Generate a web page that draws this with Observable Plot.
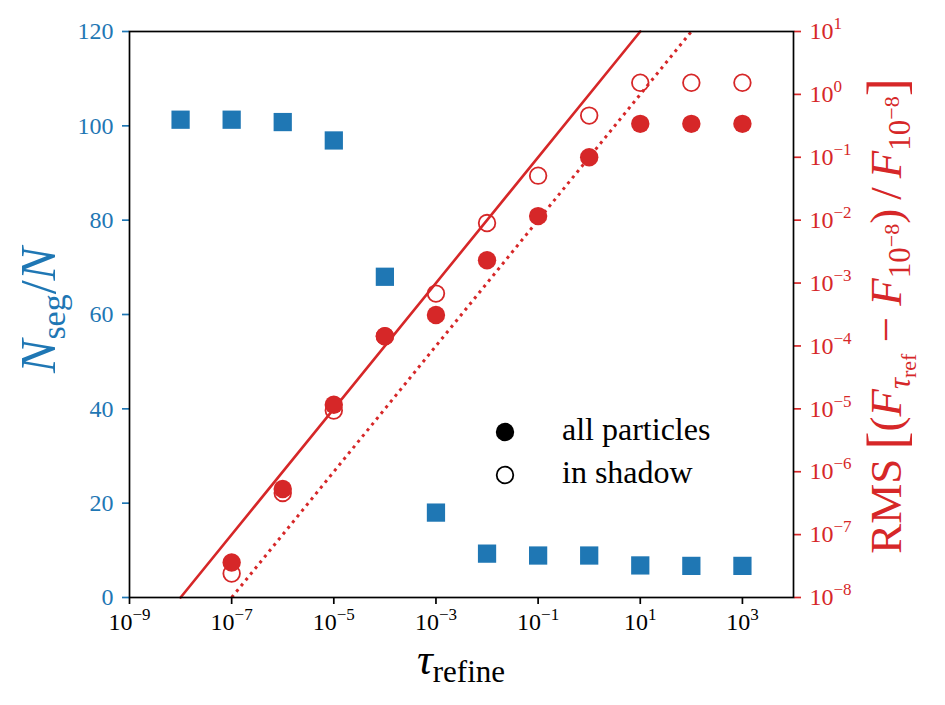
<!DOCTYPE html>
<html><head><meta charset="utf-8">
<script src="https://cdn.jsdelivr.net/npm/d3@7"></script>
<script src="https://cdn.jsdelivr.net/npm/@observablehq/plot@0.6"></script>
<style>
body{margin:0;background:#fff;}
#chart{position:relative;width:945px;height:705px;}
#chart svg{position:absolute;left:0;top:0;overflow:visible;}
</style></head><body><div id="chart"></div>
<script>
// ---- data ----
const tauSeg = [1e-8, 1e-7, 1e-6, 1e-5, 1e-4, 1e-3, 1e-2, 1e-1, 1e0, 1e1, 1e2, 1e3];
const nSeg   = [101.3, 101.3, 100.8, 96.9, 68.0, 18.0, 9.3, 8.9, 8.9, 6.8, 6.7, 6.7];
const tauRms    = [1e-7, 1e-6, 1e-5, 1e-4, 1e-3, 1e-2, 1e-1, 1e0, 1e1, 1e2, 1e3];
const rmsAll    = [3.6e-8, 5.3e-7, 1.16e-5, 1.43e-4, 3.1e-4, 2.3e-3, 1.16e-2, 0.100, 0.34, 0.34, 0.34];
const rmsShadow = [2.4e-8, 4.6e-7, 9.4e-6, 1.43e-4, 6.8e-4, 9.0e-3, 5.1e-2, 0.46, 1.53, 1.53, 1.53];
const fitTau   = [1e-8, 1e1];
const fitRms   = [1e-8, 1e1];
const fit10Tau = [1e-7, 1e2];
const fit10Rms = [1e-8, 1e1];
const xTicks      = [1e-9, 1e-7, 1e-5, 1e-3, 1e-1, 1e1, 1e3];
const yLeftTicks  = [0, 20, 40, 60, 80, 100, 120];
const yRightTicks = [1e-8, 1e-7, 1e-6, 1e-5, 1e-4, 1e-3, 1e-2, 1e-1, 1e0, 1e1];
const legendLabels = ["all particles", "in shadow"];

const BLUE = "#1f77b4", RED = "#d62728";
const FONT = '"Liberation Serif", "DejaVu Serif", serif';
const W = 945, H = 705;
const M = {marginTop: 31, marginRight: 152, marginBottom: 108, marginLeft: 129};
const fmtPow = d => "10^" + Math.round(Math.log10(d));

const segData = tauSeg.map((t, i) => ({t, v: nSeg[i]}));
const allData = tauRms.map((t, i) => ({t, v: rmsAll[i]}));
const shdData = tauRms.map((t, i) => ({t, v: rmsShadow[i]}));
const fit1 = fitTau.map((t, i) => ({t, v: fitRms[i]}));
const fit2 = fit10Tau.map((t, i) => ({t, v: fit10Rms[i]}));

const p1 = Plot.plot({
  width: W, height: H, ...M,
  style: {fontFamily: FONT, fontSize: "24px", background: "white", overflow: "visible"},
  x: {type: "log", domain: [1e-9, 1e4]},
  y: {domain: [0, 120]},
  marks: [
    Plot.dot(segData, {x: "t", y: "v", symbol: "square", r: 10.3, fill: BLUE}),
    Plot.axisX({ticks: xTicks, tickFormat: fmtPow, tickSize: 7, tickPadding: 8, strokeWidth: 1.7, label: null, color: "black"}),
    Plot.axisY({ticks: yLeftTicks, tickFormat: d => String(d), tickSize: 7, tickPadding: 9, strokeWidth: 1.7, label: null, color: BLUE})
  ]
});

const p2 = Plot.plot({
  width: W, height: H, ...M,
  style: {fontFamily: FONT, fontSize: "24px", background: "transparent", overflow: "visible"},
  x: {type: "log", domain: [1e-9, 1e4], axis: null},
  y: {type: "log", domain: [1e-8, 1e1]},
  marks: [
    Plot.line(fit1, {x: "t", y: "v", stroke: RED, strokeWidth: 2.6}),
    Plot.line(fit2, {x: "t", y: "v", stroke: RED, strokeWidth: 3, strokeDasharray: "3 4.4", strokeLinecap: "butt"}),
    Plot.dot(shdData, {x: "t", y: "v", r: 8.3, stroke: RED, strokeWidth: 1.8, fill: "none"}),
    Plot.dot(allData, {x: "t", y: "v", r: 9.2, fill: RED}),
    Plot.axisY({anchor: "right", ticks: yRightTicks, tickFormat: fmtPow, tickSize: 7, tickPadding: 9, strokeWidth: 1.7, label: null, color: RED}),
    Plot.frame({stroke: "black", strokeWidth: 1.7})
  ]
});

const chart = document.getElementById("chart");
chart.appendChild(p1);
chart.appendChild(p2);

// superscript formatting for power-of-ten tick labels
function supify(svg) {
  svg.querySelectorAll("text").forEach(t => {
    const m = t.textContent.match(/^10\^(-?\d+)$/);
    if (!m) return;
    t.textContent = "";
    const ns = "http://www.w3.org/2000/svg";
    const a = document.createElementNS(ns, "tspan");
    a.textContent = "10";
    const b = document.createElementNS(ns, "tspan");
    b.textContent = m[1].replace("-", "\u2212");
    b.setAttribute("dy", "-10");
    b.setAttribute("font-size", "17px");
    t.appendChild(a); t.appendChild(b);
  });
}
supify(p1); supify(p2);

// rich-text labels
function rich(sel, segs) {
  segs.forEach(s => {
    const ts = sel.append("tspan").text(s.t);
    if (s.size) ts.style("font-size", s.size + "px");
    if (s.dy) ts.attr("dy", s.dy);
    if (s.it) ts.style("font-style", "italic");
  });
}
function label(parent, size, color) {
  return parent.append("text")
    .style("font-family", FONT).style("font-size", size + "px")
    .style("font-style", "normal").attr("text-anchor", "middle").attr("fill", color);
}
const svg = d3.select(p2);
const g = svg.append("g");

// x label
rich(label(g, 44, "black").attr("x", 461).attr("y", 674),
  [{t: "τ", it: true}, {t: "refine", size: 31, dy: 8}]);

// left label
rich(label(g, 50, BLUE).attr("transform", "translate(55,310) rotate(-90)"),
  [{t: "N", it: true}, {t: "seg", size: 34, dy: 10}, {t: "/", size: 50, dy: -10}, {t: "N", it: true}]);

// right label
rich(label(g, 45, RED).attr("transform", "translate(901,316) rotate(-90)"),
  [{t: "RMS\u2009"}, {t: "[", size: 54, dy: 4}, {t: "(", size: 45, dy: -4}, {t: "F", it: true},
   {t: "τ", it: true, size: 31, dy: 9}, {t: "ref", size: 22, dy: 6},
   {t: " \u2212 ", size: 45, dy: -15}, {t: "F", it: true},
   {t: "10", size: 31, dy: 9}, {t: "\u22128", size: 22, dy: -11},
   {t: ")\u2009/\u2009", size: 45, dy: 2}, {t: "F", it: true},
   {t: "10", size: 31, dy: 9}, {t: "\u22128", size: 22, dy: -11},
   {t: "]", size: 54, dy: 6}]);

// legend
const lg = svg.append("g");
lg.append("circle").attr("cx", 505).attr("cy", 432).attr("r", 9.2).attr("fill", "black");
lg.append("circle").attr("cx", 505).attr("cy", 475).attr("r", 8.3).attr("fill", "none").attr("stroke", "black").attr("stroke-width", 1.8);
label(lg, 32, "black").attr("text-anchor", "start").attr("x", 562).attr("y", 440).text(legendLabels[0]);
label(lg, 32, "black").attr("text-anchor", "start").attr("x", 562).attr("y", 483).text(legendLabels[1]);
</script></body></html>
